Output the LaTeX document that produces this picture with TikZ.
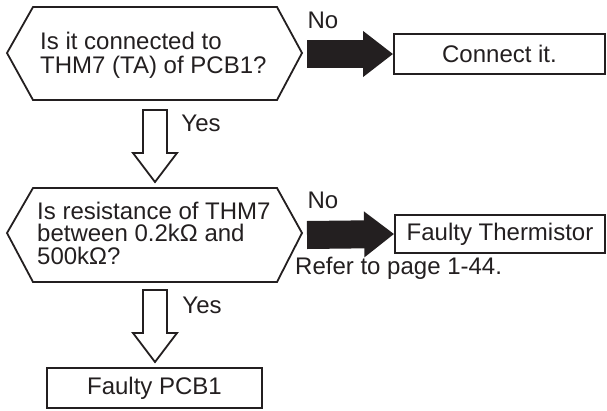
\documentclass[tikz,border=0pt]{standalone}
\usepackage{fontspec}
\setmainfont{Liberation Sans}
\usetikzlibrary{arrows.meta}
\definecolor{ink}{HTML}{231F20}
\tikzset{
  outline/.style={draw=ink, line width=1.8pt, line join=miter},
  txt/.style={text=ink, font=\fontsize{24}{24}\selectfont, inner sep=0pt},
  boxnode/.style={draw=ink, line width=1.8pt, inner sep=0pt, text=ink, font=\fontsize{24}{24}\selectfont},
  noarrow/.style={draw=ink, line width=28pt, -{Triangle[length=30pt,width=44pt]}},
  yesarrow/.style={draw=ink, line width=1.8pt, fill=white, line join=miter}
}
\begin{document}
\begin{tikzpicture}[x=1pt,y=-1pt]
\useasboundingbox (0,0) rectangle (607,410);
% decision 1
\draw[outline] (7,53) -- (33,7) -- (277,7) -- (302,53) -- (277,100) -- (33,100) -- cycle;
\node[txt, anchor=west, align=left] (q1) at (40,55) {Is it connected to\\THM7 (TA) of PCB1?};
\coordinate (q1e) at (307,54);
% box connect
\node[boxnode, minimum width=211pt, minimum height=40pt] (b1) at (499.5,54) {Connect it.};
\draw[noarrow] (q1e) -- (b1.west);
\node[txt] (no1) at (323,20) {No};
% yes arrow 1
\draw[yesarrow] (143,110) -- (167,110) -- (167,153) -- (177,153) -- (155,182) -- (133,153) -- (143,153) -- cycle;
\node[txt] (yes1) at (201,123) {Yes};
% decision 2
\draw[outline] (7,233) -- (33,188) -- (277,188) -- (302,233) -- (277,282) -- (33,282) -- cycle;
\node[txt, anchor=west, align=left, font=\fontsize{24}{22.5}\selectfont] (q2) at (37,233) {Is resistance of THM7\\between 0.2kΩ and\\500kΩ?};
\coordinate (q2e) at (307,235);
\node[boxnode, minimum width=210pt, minimum height=38pt] (b2) at (500,234) {Faulty Thermistor};
\draw[noarrow] (q2e) -- (b2.west);
\node[txt] (no2) at (323,200) {No};
\node[txt, anchor=west] (ref) at (295,268) {Refer to page 1-44.};
% yes arrow 2
\draw[yesarrow] (143,290) -- (167,290) -- (167,333) -- (177,333) -- (155,362) -- (133,333) -- (143,333) -- cycle;
\node[txt] (yes2) at (202,305) {Yes};
\node[boxnode, minimum width=215pt, minimum height=40pt] (b3) at (154.5,388) {Faulty PCB1};
\end{tikzpicture}
\end{document}
